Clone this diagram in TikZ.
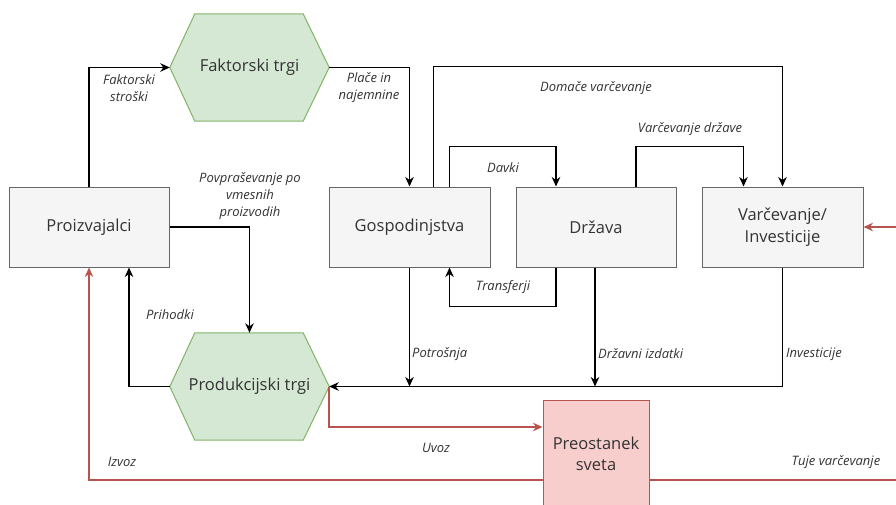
\documentclass[tikz,border=0pt]{standalone}
\usepackage{fontspec}
\setmainfont{Open Sans}
\usetikzlibrary{arrows.meta,backgrounds}
\definecolor{boxfill}{HTML}{F5F5F5}
\definecolor{boxline}{HTML}{666666}
\definecolor{hexfill}{HTML}{D5E8D4}
\definecolor{hexline}{HTML}{82B366}
\definecolor{worldfill}{HTML}{F8CECC}
\definecolor{worldline}{HTML}{B85450}
\definecolor{txt}{HTML}{333333}

\begin{document}
\begin{tikzpicture}[x=1pt,y=-1pt,
  box/.style={draw=boxline,fill=boxfill,line width=1pt,minimum width=160pt,
    minimum height=80pt,inner sep=0pt,text=txt,align=center,
    font=\fontsize{16.5}{21.5}\selectfont},
  market/.style={minimum width=159pt,minimum height=107pt,inner sep=0pt,
    text=txt,align=center,font=\fontsize{16.5}{21.5}\selectfont},
  hexshape/.style={draw=hexline,fill=hexfill,line width=1pt},
  world/.style={box,draw=worldline,fill=worldfill,minimum width=106pt,minimum height=108pt},
  flow/.style={line width=1.5pt,-{Stealth[length=9.5pt,width=8.5pt,inset=3pt]}},
  redflow/.style={flow,draw=worldline},
  lbl/.style={font=\fontsize{13}{17}\selectfont\itshape,text=txt,align=center,inner sep=0pt}
]
\useasboundingbox (0,0) rectangle (896,504);
\clip (0,0) rectangle (896,504);

% sectors
\node[box] (prod) at (89,227) {Proizvajalci};
\node[box,minimum width=161pt] (gosp) at (409.5,227) {Gospodinjstva};
\node[box] (drz) at (596,227) {Država};
\node[box,minimum width=161pt] (varc) at (782.5,227) {Varčevanje/\\Investicije};
\node[world] (pres) at (596,454) {Preostanek\\sveta};

% markets (hexagons drawn behind their labels)
\node[market] (ft) at (249.5,67.5) {Faktorski trgi};
\node[market] (pt) at (249.5,386.5) {Produkcijski trgi};
\begin{scope}[on background layer]
  \foreach \m in {ft,pt}{
    \draw[hexshape] (\m.west) -- ([xshift=25pt]\m.north west) -- ([xshift=-26pt]\m.north east)
      -- (\m.east) -- ([xshift=-26pt]\m.south east) -- ([xshift=25pt]\m.south west) -- cycle;
  }
\end{scope}

% flows
\draw[flow] (prod.north) |- (ft.west);
\draw[flow] (ft.east) -| (gosp.north);
\draw[flow] ([xshift=24pt]gosp.north) -- ++(0,-120) -| (varc.north);
\draw[flow] ([xshift=40pt]gosp.north) -- ++(0,-40) -| ([xshift=-40pt]drz.north);
\draw[flow] ([xshift=40pt]drz.north) -- ++(0,-40) -| ([xshift=-39pt]varc.north);
\draw[flow] ([xshift=-40pt]drz.south) -- ++(0,39) -| ([xshift=40pt]gosp.south);
\draw[flow] (prod.east) -| (pt.north);
\draw[flow] (pt.west) -| ([xshift=40pt]prod.south);
\draw[flow] (varc.south) |- (pt.east);
\draw[flow] (gosp.south) -- (gosp.south |- pt.east);
\draw[flow] ([xshift=-1pt]drz.south) -- ([xshift=-1pt]drz.south |- pt.east);

% flows with the rest of the world
\draw[redflow] (pt.east) |- ([yshift=27pt]pres.west);
\draw[redflow] ([yshift=-26pt]pres.west) -| (prod.south);
\draw[redflow] ([yshift=-26pt]pres.east) -- ++(271,0) |- (varc.east);

% flow labels
\node[lbl] (l1) at (129,88) {Faktorski\\stroški};
\node[lbl] (l2) at (369,88) {Plače in\\najemnine};
\node[lbl] (l3) at (596,88) {Domače varčevanje};
\node[lbl] (l4) at (690,129) {Varčevanje države};
\node[lbl] (l5) at (503,168) {Davki};
\node[lbl] (l6) at (250,196) {Povpraševanje po\\vmesnih\\proizvodih};
\node[lbl] (l7) at (503,287) {Transferji};
\node[lbl] (l8) at (170,315) {Prihodki};
\node[lbl,anchor=west] (l9) at (412,354) {Potrošnja};
\node[lbl,anchor=west] (l10) at (598,354) {Državni izdatki};
\node[lbl,anchor=west] (l11) at (786,354) {Investicije};
\node[lbl] (l12) at (436,448) {Uvoz};
\node[lbl] (l13) at (122,462) {Izvoz};
\node[lbl] (l14) at (836,462) {Tuje varčevanje};
\end{tikzpicture}
\end{document}
